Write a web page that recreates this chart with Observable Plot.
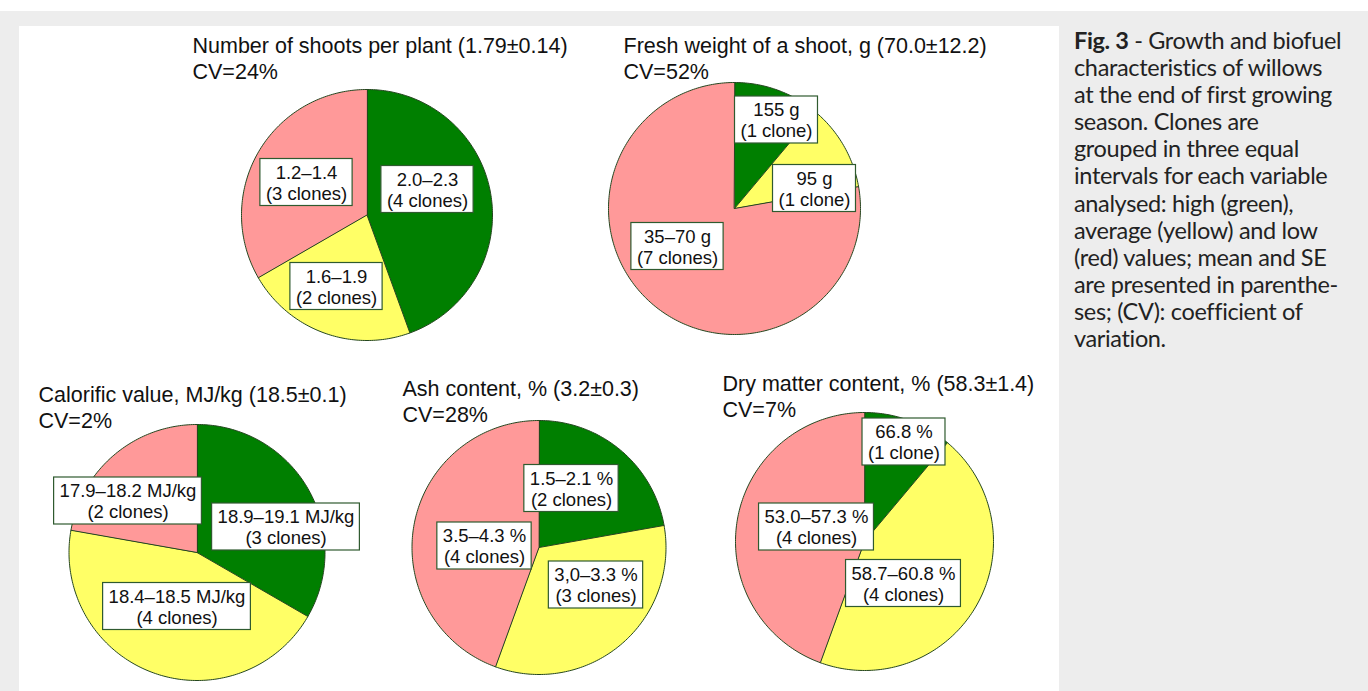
<!DOCTYPE html>
<html><head><meta charset="utf-8">
<script src="https://cdn.jsdelivr.net/npm/d3@7"></script>
<script src="https://cdn.jsdelivr.net/npm/@observablehq/plot@0.6"></script>
<style>
html,body{margin:0;padding:0;}
body{width:1368px;height:691px;background:#ededed;position:relative;overflow:hidden;font-family:"Liberation Sans",Arial,sans-serif;}
#topstrip{position:absolute;left:0;top:0;width:1368px;height:11px;background:#fff;}
#panel{position:absolute;left:19px;top:26px;width:1040px;height:665px;background:#fff;}
#chart{position:absolute;left:0;top:0;}
#caption{position:absolute;left:1074px;top:27px;font-family:Lato,"Open Sans",sans-serif;font-size:23.5px;line-height:27.1px;color:#222;white-space:nowrap;letter-spacing:-0.35px;}
#caption b{font-weight:700;}
</style></head><body>
<div id="topstrip"></div><div id="panel"></div><div id="chart"></div>
<div id="caption"><b>Fig. 3</b> - Growth and biofuel<br>characteristics of willows<br>at the end of first growing<br>season. Clones are<br>grouped in three equal<br>intervals for each variable<br>analysed: high (green),<br>average (yellow) and low<br>(red) values; mean and SE<br>are presented in parenthe-<br>ses; (CV): coefficient of<br>variation.</div>
<script>
// ---- data ----
const pieTitles = [
  "Number of shoots per plant (1.79±0.14)",
  "Fresh weight of a shoot, g (70.0±12.2)",
  "Calorific value, MJ/kg (18.5±0.1)",
  "Ash content, % (3.2±0.3)",
  "Dry matter content, % (58.3±1.4)"
];
const pieCV = ["CV=24%", "CV=52%", "CV=2%", "CV=28%", "CV=7%"];
const classes = ["high", "average", "low"];
const clonesHigh = [4, 1, 3, 2, 1];
const clonesAverage = [2, 1, 4, 3, 4];
const clonesLow = [3, 7, 2, 4, 4];
const rangeHigh = ["2.0–2.3", "155 g", "18.9–19.1 MJ/kg", "1.5–2.1 %", "66.8 %"];
const rangeAverage = ["1.6–1.9", "95 g", "18.4–18.5 MJ/kg", "3,0–3.3 %", "58.7–60.8 %"];
const rangeLow = ["1.2–1.4", "35–70 g", "17.9–18.2 MJ/kg", "3.5–4.3 %", "53.0–57.3 %"];

// ---- layout (page pixels) ----
const layout = [
  {cx: 366.5, cy: 214.5, r: 125.5, tx: 192, ty: 46, lab: {high: [427, 189], average: [336, 286], low: [306, 182]}},
  {cx: 734, cy: 208, r: 126, tx: 623, ty: 46, lab: {high: [776, 119.5], average: [814, 188], low: [677, 246]}},
  {cx: 196.5, cy: 552, r: 128, tx: 38, ty: 395, lab: {high: [285.5, 526.5], average: [176.5, 606], low: [127.5, 500.5]}},
  {cx: 538.5, cy: 547, r: 127, tx: 402, ty: 389, lab: {high: [571, 488], average: [595.5, 584.5], low: [484, 545.5]}},
  {cx: 864, cy: 541, r: 129, tx: 722, ty: 384, lab: {high: [903.5, 441.5], average: [903, 583], low: [816, 526.5]}}
];
const colors = ["#007f00", "#ffff66", "#ff9999"];
const edge = "#24461f";
const font = '"Liberation Sans", Arial, sans-serif';
const labelSize = 18.5;

// ---- build tables ----
const counts = {high: clonesHigh, average: clonesAverage, low: clonesLow};
const ranges = {high: rangeHigh, average: rangeAverage, low: rangeLow};
const pie = d3.pie().sort(null).value(d => d.n);
const slicePts = [];
const labels = [];
const titles = [];
const ctx = document.createElement("canvas").getContext("2d");
ctx.font = `${labelSize}px ${font}`;
pieTitles.forEach((t, i) => {
  const L = layout[i];
  titles.push({x: L.tx, y: L.ty, text: t});
  titles.push({x: L.tx, y: L.ty + 26, text: pieCV[i]});
  const rows = classes.map(c => ({cls: c, n: counts[c][i], range: ranges[c][i]}));
  pie(rows).forEach(a => {
    const id = i + "-" + a.data.cls;
    slicePts.push({id, cls: a.data.cls, x: L.cx, y: L.cy});
    const steps = Math.max(2, Math.ceil((a.endAngle - a.startAngle) / (Math.PI / 180)));
    for (let k = 0; k <= steps; k++) {
      const ang = a.startAngle + (a.endAngle - a.startAngle) * k / steps;
      slicePts.push({id, cls: a.data.cls, x: L.cx + L.r * Math.sin(ang), y: L.cy - L.r * Math.cos(ang)});
    }
    const n = a.data.n;
    const text = a.data.range + "\n(" + n + (n === 1 ? " clone)" : " clones)");
    const w = Math.max(...text.split("\n").map(s => ctx.measureText(s).width)) + 11;
    const h = 47;
    const [lx, ly] = L.lab[a.data.cls];
    labels.push({text, x: lx, y: ly, x1: lx - w / 2, x2: lx + w / 2, y1: ly - h / 2, y2: ly + h / 2});
  });
});

const chart = Plot.plot({
  width: 1060,
  height: 691,
  margin: 0,
  x: {type: "identity", axis: null},
  y: {type: "identity", axis: null},
  color: {domain: classes, range: colors},
  style: {background: "transparent", fontFamily: font, color: "#111"},
  marks: [
    Plot.line(slicePts, {x: "x", y: "y", z: "id", fill: "cls", stroke: edge, strokeWidth: 1, curve: "linear-closed"}),
    Plot.rect(labels, {x1: "x1", x2: "x2", y1: "y1", y2: "y2", fill: "white", stroke: "#2f5a2f", strokeWidth: 1.2}),
    Plot.text(labels, {x: "x", y: "y", text: "text", fontSize: labelSize, lineHeight: 1.12, fill: "#111"}),
    Plot.text(titles, {x: "x", y: "y", text: "text", fontSize: 21.5, textAnchor: "start", fill: "#111"})
  ]
});
document.getElementById("chart").appendChild(chart);
</script>
</body></html>
